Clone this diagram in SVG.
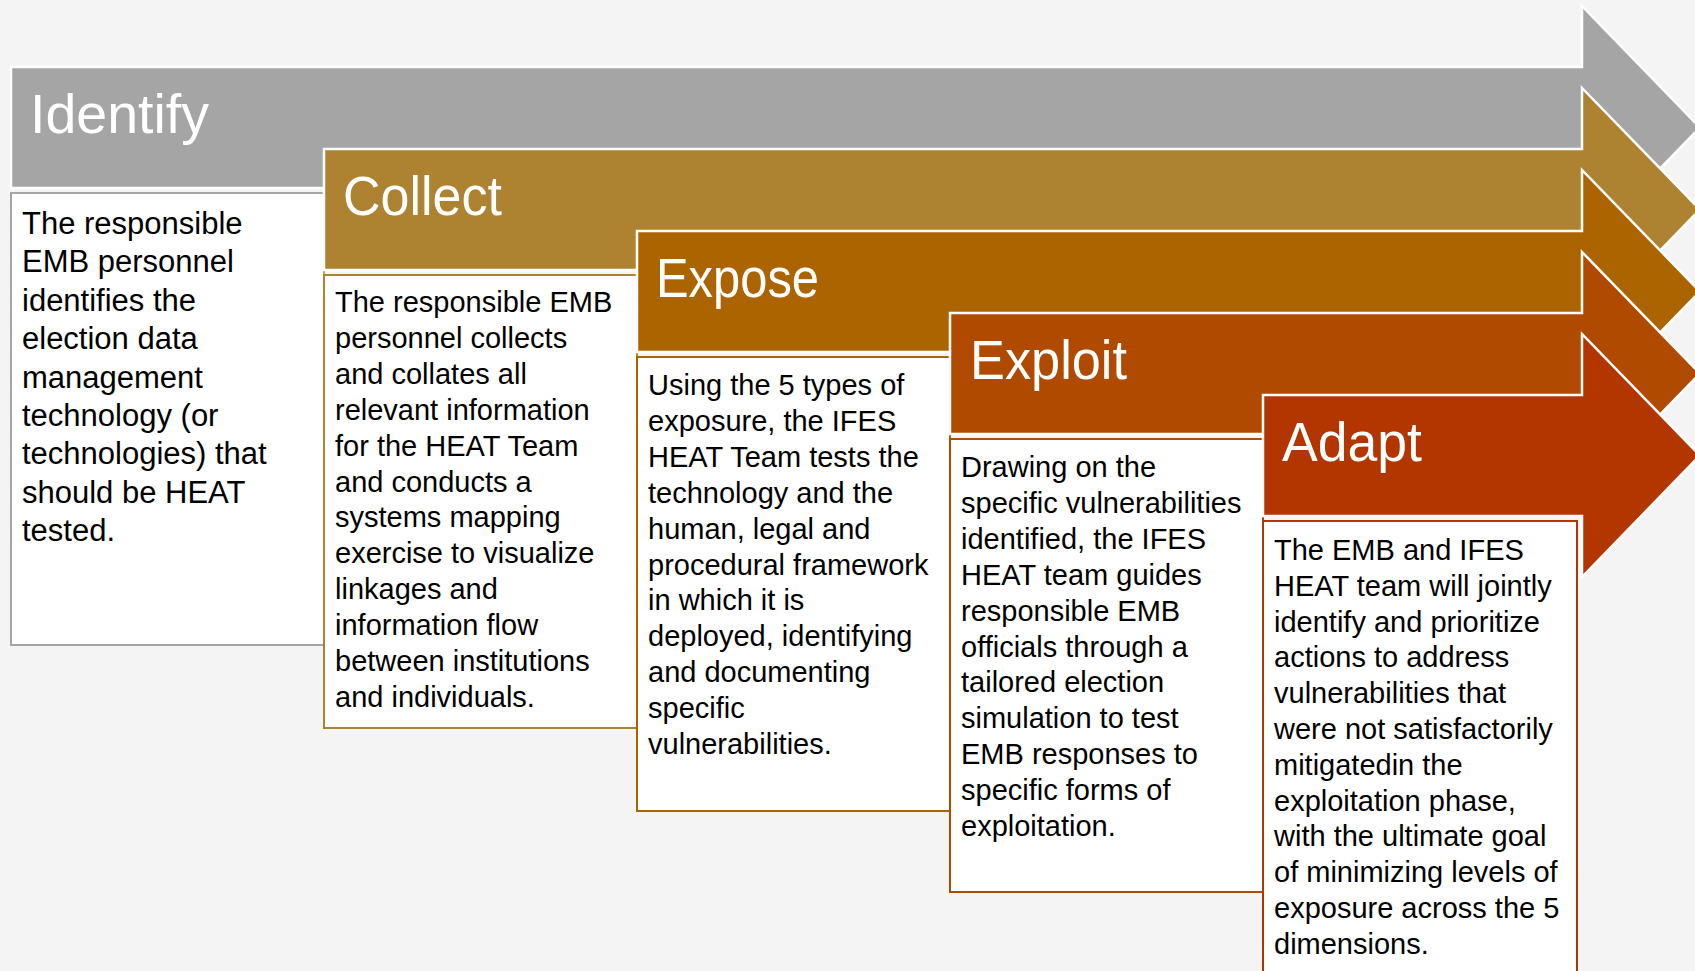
<svg xmlns="http://www.w3.org/2000/svg" width="1695" height="971" viewBox="0 0 1695 971">
  <style>
    .arrow { stroke: #FFFFFF; stroke-width: 2.5; stroke-linejoin: miter; }
    .title { font-family: "Liberation Sans", Arial, sans-serif; font-size: 55px; fill: #FFFFFF; }
    .body { font-family: "Liberation Sans", Arial, sans-serif; font-size: 29px; fill: #000000; }
    .body-lg { font-size: 31px; }
    .box { fill: #FFFFFF; stroke-width: 2; }
    .grey { fill: #A5A5A5; }
    .gold { fill: #AD8230; }
    .amber { fill: #AC6400; }
    .rust { fill: #B04A00; }
    .red { fill: #B33500; }
  </style>

  <rect width="1695" height="971" fill="#F4F4F4"/>

  <!-- Identify -->
  <g id="identify">
    <path class="arrow grey" d="M11,67 H1582 V6 L1700,127.5 L1582,249 V188 H11 Z"/>
    <text class="title" x="30" y="133" textLength="179" lengthAdjust="spacingAndGlyphs">Identify</text>
    <rect class="box" x="11" y="193" width="313" height="452" stroke="#A5A5A5"/>
    <text class="body body-lg" x="22" y="234">
      <tspan x="22">The responsible</tspan>
      <tspan x="22" dy="38.4">EMB personnel</tspan>
      <tspan x="22" dy="38.4">identifies the</tspan>
      <tspan x="22" dy="38.4">election data</tspan>
      <tspan x="22" dy="38.4">management</tspan>
      <tspan x="22" dy="38.4">technology (or</tspan>
      <tspan x="22" dy="38.4">technologies) that</tspan>
      <tspan x="22" dy="38.4">should be HEAT</tspan>
      <tspan x="22" dy="38.4">tested.</tspan>
    </text>
  </g>

  <!-- Collect -->
  <g id="collect">
    <path class="arrow gold" d="M324,149 H1582 V88 L1700,209.5 L1582,331 V270 H324 Z"/>
    <text class="title" x="343" y="215" textLength="159" lengthAdjust="spacingAndGlyphs">Collect</text>
    <rect class="box" x="324" y="275" width="313" height="453" stroke="#AD8230"/>
    <text class="body" x="335" y="312">
      <tspan x="335">The responsible EMB</tspan>
      <tspan x="335" dy="35.9">personnel collects</tspan>
      <tspan x="335" dy="35.9">and collates all</tspan>
      <tspan x="335" dy="35.9">relevant information</tspan>
      <tspan x="335" dy="35.9">for the HEAT Team</tspan>
      <tspan x="335" dy="35.9">and conducts a</tspan>
      <tspan x="335" dy="35.9">systems mapping</tspan>
      <tspan x="335" dy="35.9">exercise to visualize</tspan>
      <tspan x="335" dy="35.9">linkages and</tspan>
      <tspan x="335" dy="35.9">information flow</tspan>
      <tspan x="335" dy="35.9">between institutions</tspan>
      <tspan x="335" dy="35.9">and individuals.</tspan>
    </text>
  </g>

  <!-- Expose -->
  <g id="expose">
    <path class="arrow amber" d="M637,231 H1582 V170 L1700,291.5 L1582,413 V352 H637 Z"/>
    <text class="title" x="656" y="297" textLength="163" lengthAdjust="spacingAndGlyphs">Expose</text>
    <rect class="box" x="637" y="357" width="313" height="454" stroke="#AC6400"/>
    <text class="body" x="648" y="395">
      <tspan x="648">Using the 5 types of</tspan>
      <tspan x="648" dy="35.9">exposure, the IFES</tspan>
      <tspan x="648" dy="35.9">HEAT Team tests the</tspan>
      <tspan x="648" dy="35.9">technology and the</tspan>
      <tspan x="648" dy="35.9">human, legal and</tspan>
      <tspan x="648" dy="35.9">procedural framework</tspan>
      <tspan x="648" dy="35.9">in which it is</tspan>
      <tspan x="648" dy="35.9">deployed, identifying</tspan>
      <tspan x="648" dy="35.9">and documenting</tspan>
      <tspan x="648" dy="35.9">specific</tspan>
      <tspan x="648" dy="35.9">vulnerabilities.</tspan>
    </text>
  </g>

  <!-- Exploit -->
  <g id="exploit">
    <path class="arrow rust" d="M950,313 H1582 V252 L1700,373.5 L1582,495 V434 H950 Z"/>
    <text class="title" x="970" y="379" textLength="157" lengthAdjust="spacingAndGlyphs">Exploit</text>
    <rect class="box" x="950" y="439" width="313" height="453" stroke="#B04A00"/>
    <text class="body" x="961" y="477">
      <tspan x="961">Drawing on the</tspan>
      <tspan x="961" dy="35.9">specific vulnerabilities</tspan>
      <tspan x="961" dy="35.9">identified, the IFES</tspan>
      <tspan x="961" dy="35.9">HEAT team guides</tspan>
      <tspan x="961" dy="35.9">responsible EMB</tspan>
      <tspan x="961" dy="35.9">officials through a</tspan>
      <tspan x="961" dy="35.9">tailored election</tspan>
      <tspan x="961" dy="35.9">simulation to test</tspan>
      <tspan x="961" dy="35.9">EMB responses to</tspan>
      <tspan x="961" dy="35.9">specific forms of</tspan>
      <tspan x="961" dy="35.9">exploitation.</tspan>
    </text>
  </g>

  <!-- Adapt -->
  <g id="adapt">
    <path class="arrow red" d="M1263,395 H1582 V334 L1700,455.5 L1582,577 V516 H1263 Z"/>
    <text class="title" x="1282" y="461" textLength="140" lengthAdjust="spacingAndGlyphs">Adapt</text>
    <rect class="box" x="1263" y="521" width="314" height="456" stroke="#B33500"/>
    <text class="body" x="1274" y="560">
      <tspan x="1274">The EMB and IFES</tspan>
      <tspan x="1274" dy="35.8">HEAT team will jointly</tspan>
      <tspan x="1274" dy="35.8">identify and prioritize</tspan>
      <tspan x="1274" dy="35.8">actions to address</tspan>
      <tspan x="1274" dy="35.8">vulnerabilities that</tspan>
      <tspan x="1274" dy="35.8">were not satisfactorily</tspan>
      <tspan x="1274" dy="35.8">mitigatedin the</tspan>
      <tspan x="1274" dy="35.8">exploitation phase,</tspan>
      <tspan x="1274" dy="35.8">with the ultimate goal</tspan>
      <tspan x="1274" dy="35.8">of minimizing levels of</tspan>
      <tspan x="1274" dy="35.8">exposure across the 5</tspan>
      <tspan x="1274" dy="35.8">dimensions.</tspan>
    </text>
  </g>

  <!-- the stages are themselves arrows; no separate connector lines -->
  <g id="connectors"/>
</svg>
